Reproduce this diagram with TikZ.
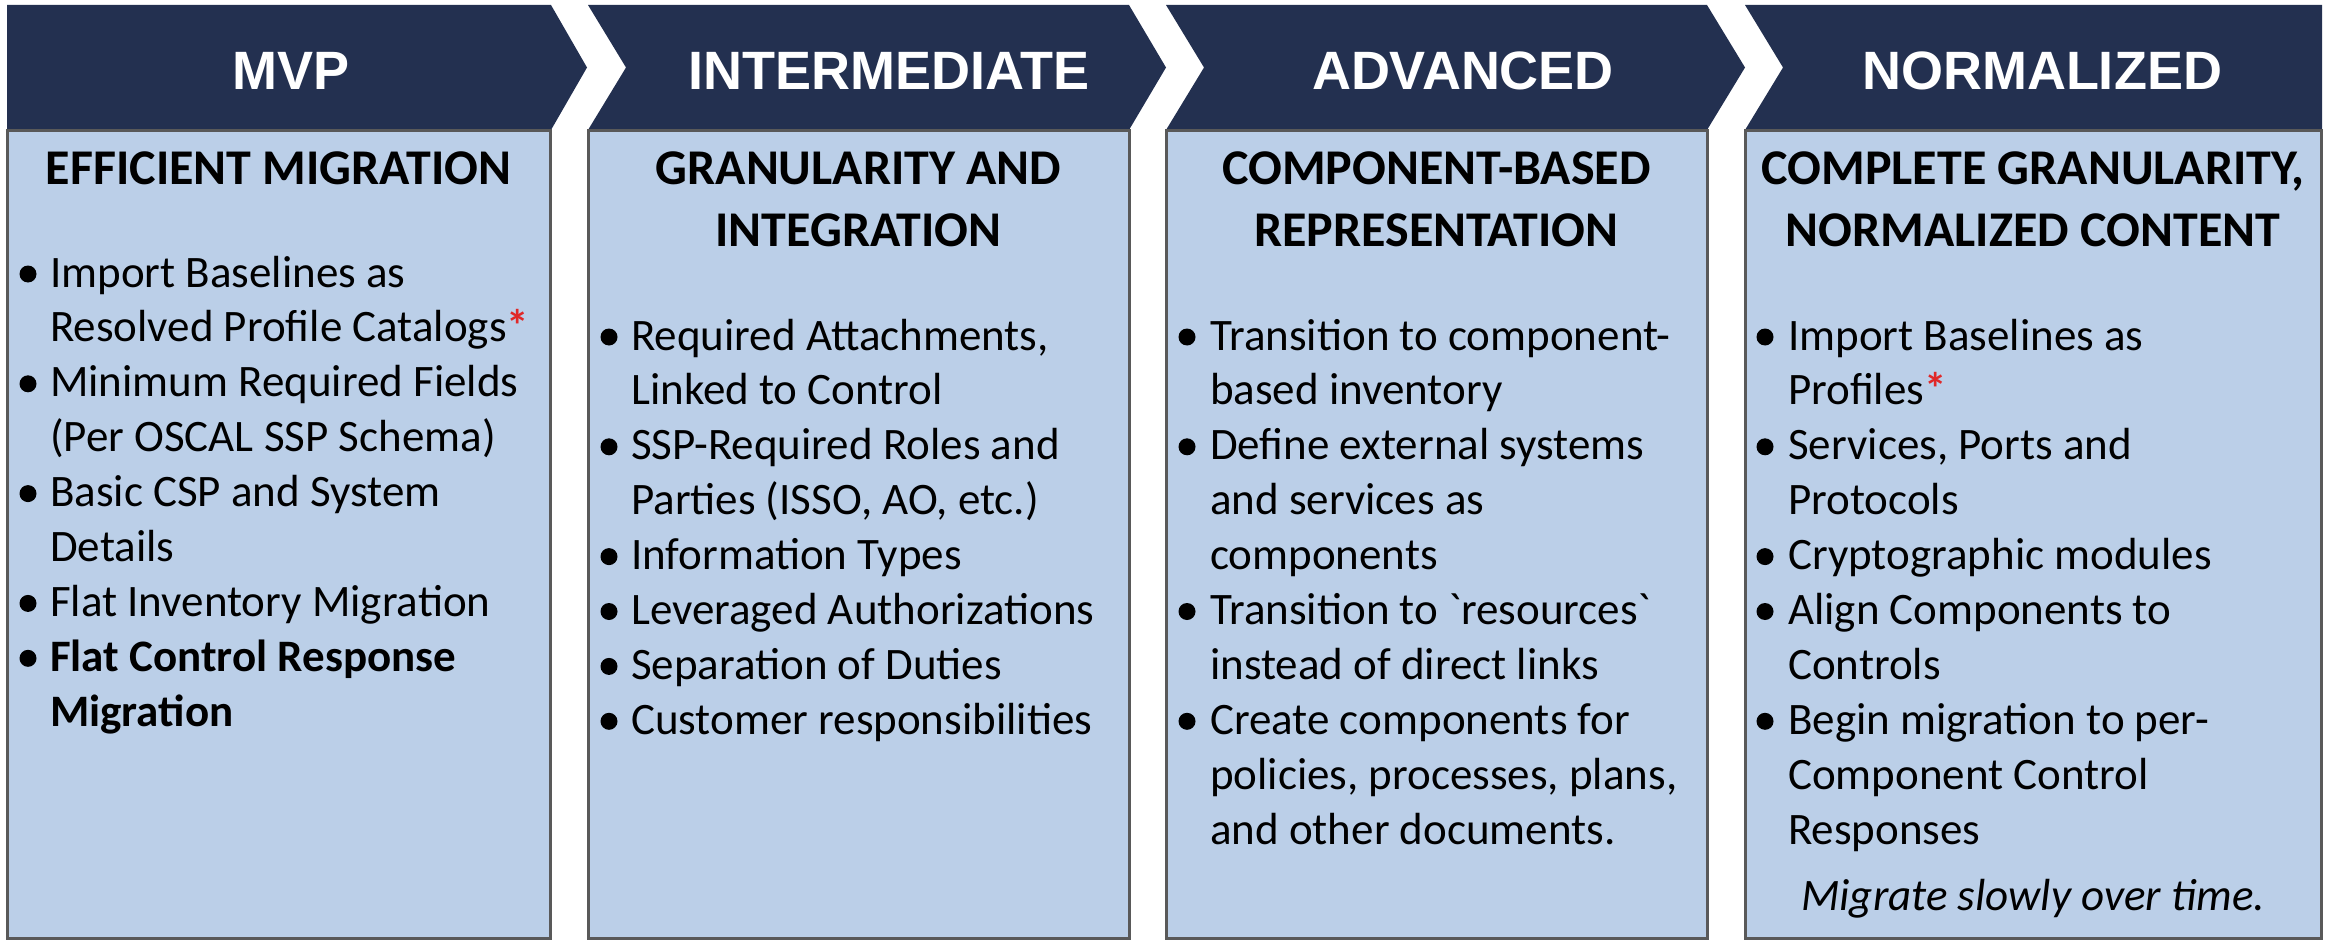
\documentclass[tikz,border=0pt]{standalone}
\usepackage{fontspec}
\setmainfont{Carlito}
\newfontfamily\hdrfont{Liberation Sans}
\definecolor{navy}{HTML}{233050}
\definecolor{panelblue}{HTML}{BBCFE8}
\definecolor{astred}{HTML}{E02828}
\newcommand{\grv}{\XeTeXglyph\XeTeXcharglyph"60\relax}
\newcommand{\redstar}{{\color{astred}\bfseries*}}
\newcommand{\collines}[4]{%
  \foreach \t [count=\i from 0] in {#4} {
    \node[itm] (#1-\i) at (#2, #3+\i*54.9) {\t};
  }}
\begin{document}
\begin{tikzpicture}[x=1pt,y=-1pt,
  chev/.style={fill=navy, draw=none},
  panel/.style={fill=panelblue, draw=black!65, line width=3pt},
  hdr/.style={font=\hdrfont\bfseries\fontsize{54}{60}\selectfont, text=white, anchor=base, inner sep=0pt},
  ttl/.style={font=\bfseries\fontsize{50}{61}\selectfont, anchor=base, inner sep=0pt},
  itm/.style={font=\fontsize{45}{55}\selectfont, anchor=base west, inner sep=0pt},
  bul/.style={circle, fill=black, inner sep=0pt, minimum size=17pt},
  note/.style={font=\itshape\fontsize{45}{55}\selectfont, anchor=base, inner sep=0pt},
]
\useasboundingbox (0,0) rectangle (2325,944);

% header chevrons
\fill[chev] (7,5) -- (551,5) -- (587,67.5) -- (551,130) -- (7,130) -- cycle;
\fill[chev] (588,5) -- (1129,5) -- (1166,67.5) -- (1129,130) -- (588,130) -- (626,67.5) -- cycle;
\fill[chev] (1166,5) -- (1707,5) -- (1745,67.5) -- (1707,130) -- (1166,130) -- (1204,67.5) -- cycle;
\fill[chev] (1745,5) -- (2322,5) -- (2322,130) -- (1745,130) -- (1783,67.5) -- cycle;

% panels
\draw[panel] (7,131) rectangle (550,938);
\draw[panel] (588,131) rectangle (1129,938);
\draw[panel] (1166,131) rectangle (1707,938);
\draw[panel] (1745,131) rectangle (2321,938);

% header labels
\node[hdr] (h1) at (291,90) {MVP};
\node[hdr] (h2) at (889,90) {INTERMEDIATE};
\node[hdr] (h3) at (1463,90) {ADVANCED};
\node[hdr] (h4) at (2042,90) {NORMALIZED};

% titles
\node[ttl] (t1) at (278.5,185) {EFFICIENT MIGRATION};
\node[ttl] (t2a) at (858.5,185) {GRANULARITY AND};
\node[ttl] (t2b) at (858.5,246) {INTEGRATION};
\node[ttl] (t3a) at (1436.5,185) {COMPONENT-BASED};
\node[ttl] (t3b) at (1436.5,246) {REPRESENTATION};
\node[ttl] (t4a) at (2033,185) {COMPLETE GRANULARITY,};
\node[ttl] (t4b) at (2033,246) {NORMALIZED CONTENT};

% column 1
\collines{c1}{50}{287}{{Import Baselines as},{Resolved Profile Catalogs\redstar},{Minimum Required Fields},{(Per OSCAL SSP Schema)},{Basic CSP and System},{Details},{Flat Inventory Migration},{\bfseries Flat Control Response},{\bfseries Migration}}
\foreach \k in {0,2,4,6,7} \node[bul] (b1-\k) at (28, 287+\k*54.9-13) {};

% column 2
\collines{c2}{631}{350}{{Required Attachments,},{Linked to Control},{SSP-Required Roles and},{Parties (ISSO, AO, etc.)},{Information Types},{Leveraged Authorizations},{Separation of Duties},{Customer responsibilities}}
\foreach \k in {0,2,4,5,6,7} \node[bul] (b2-\k) at (609, 350+\k*54.9-13) {};

% column 3
\collines{c3}{1210}{350}{{Transition to component-},{based inventory},{Define external systems},{and services as},{components},{Transition to \grv resources\grv},{instead of direct links},{Create components for},{policies, processes, plans,},{and other documents.}}
\foreach \k in {0,2,5,7} \node[bul] (b3-\k) at (1187, 350+\k*54.9-13) {};

% column 4
\collines{c4}{1788}{350}{{Import Baselines as},{Profiles\redstar},{Services, Ports and},{Protocols},{Cryptographic modules},{Align Components to},{Controls},{Begin migration to per-},{Component Control},{Responses}}
\foreach \k in {0,2,4,5,7} \node[bul] (b4-\k) at (1765, 350+\k*54.9-13) {};

\node[note] (n4) at (2033,910) {Migrate slowly over time.};
\end{tikzpicture}
\end{document}
